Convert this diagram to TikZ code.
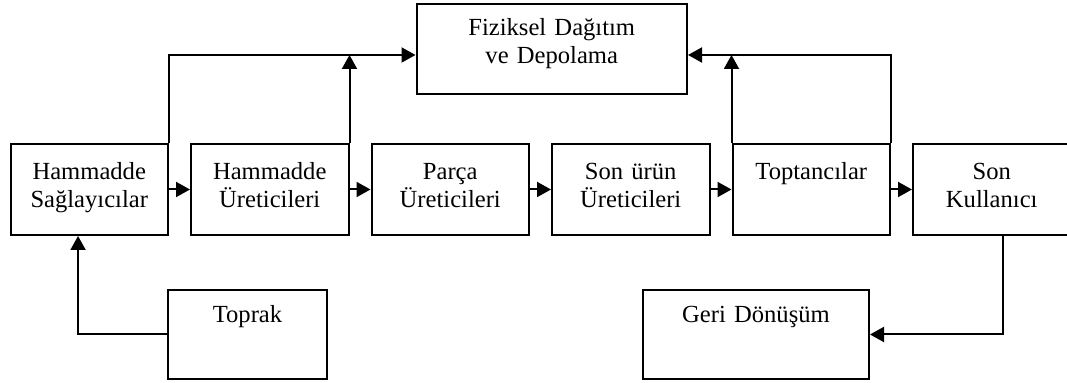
\documentclass[tikz,border=0pt]{standalone}
\usepackage{fontspec}
\setmainfont{Liberation Serif}
\usetikzlibrary{positioning,arrows.meta}

\begin{document}
\begin{tikzpicture}[x=0.5pt,y=-0.5pt,node distance=90.25pt,
blok/.style={
rectangle,
draw,
line width=1pt,
inner sep=0pt,
align=center,
text width=78.75pt,
text height=18pt,
text depth=27.5pt,
font=\fontsize{12.3}{14}\selectfont
},
to/.style={-{Triangle[length=7pt,width=7.5pt]},line width=1pt},
]
\useasboundingbox (0,0) rectangle (1067,383);
\node (ham) [blok] at (89.25,189.5) {Hammadde\\Sağlayıcılar};
\node (hamur) [blok,right of=ham] {Hammadde\\Üreticileri};
\node (parca) [blok,right of=hamur] {Parça\\Üreticileri};
\node (sonur) [blok,right of=parca] {Son ürün\\Üreticileri};
\node (topt) [blok,right of=sonur] {Toptancılar};
\node (sonk) [blok,right of=topt] {Son\\Kullanıcı};
\node (fiz) [blok,text width=135.25pt,text height=15.8pt,text depth=29.2pt] at (551.75,49) {Fiziksel Dağıtım\\ve Depolama};
\node (toprak) [blok,text width=79.5pt,text height=16.5pt,text depth=28pt] at (247.5,334.5) {Toprak};
\node (geri) [blok,text width=113pt,text height=16.5pt,text depth=28pt] at (756,334.5) {Geri Dönüşüm};
\coordinate (fl) at ([yshift=-3pt]fiz.west);
\coordinate (fr) at ([yshift=-3pt]fiz.east);
\draw[to] (ham) -- (hamur);
\draw[to] (hamur) -- (parca);
\draw[to] (parca) -- (sonur);
\draw[to] (sonur) -- (topt);
\draw[to] (topt) -- (sonk);
\draw[to] (ham.north east) |- (fl);
\draw[to] (hamur.north east) -- (hamur.north east |- fl);
\draw[to] (topt.north west) -- (topt.north west |- fr);
\draw[to] (topt.north east) |- (fr);
\draw[to] ([xshift=5.6pt]sonk.south) |- (geri.east);
\draw[to] (toprak.west) -| ([xshift=-5.6pt]ham.south);
\end{tikzpicture}
\end{document}
